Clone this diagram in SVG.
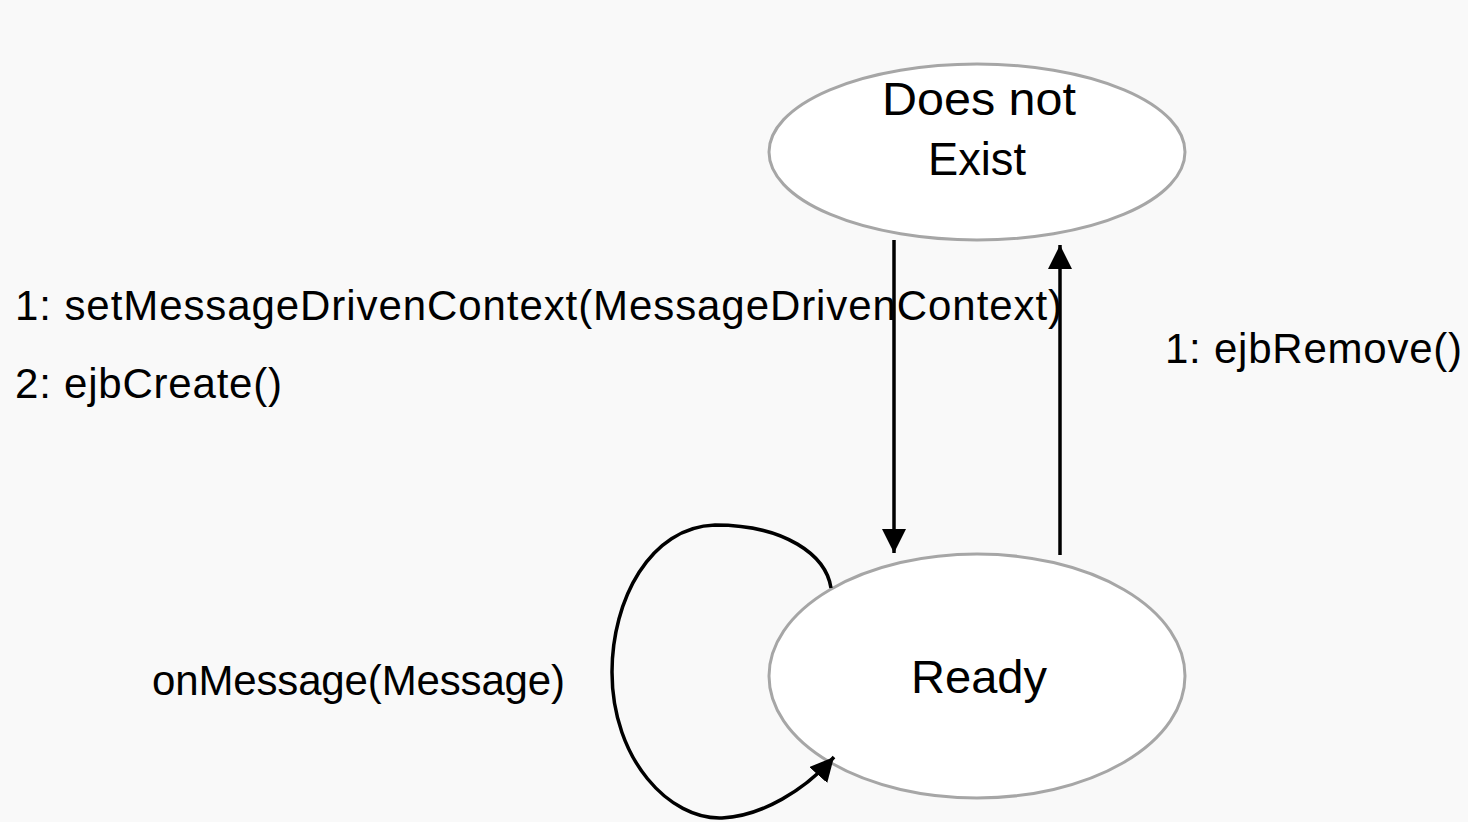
<svg xmlns="http://www.w3.org/2000/svg" width="1468" height="822" viewBox="0 0 1468 822">
  <style>
    .state { fill: #ffffff; stroke: #a6a6a6; stroke-width: 3; }
    .label { font-family: "Liberation Sans", Arial, sans-serif; font-size: 42px; fill: #000000; }
    .name { font-family: "Liberation Sans", Arial, sans-serif; font-size: 46px; fill: #000000; text-anchor: middle; }
    .edge { fill: none; stroke: #000000; stroke-width: 3.5; }
  </style>
  <defs>
    <marker id="arrow" viewBox="0 0 24 24" refX="24" refY="12" markerWidth="24" markerHeight="24" markerUnits="userSpaceOnUse" orient="auto">
      <path d="M0,0 L24,12 L0,24 Z" fill="#000000"/>
    </marker>
  </defs>
  <rect width="1468" height="822" fill="#f9f9f9"/>

  <g id="state-does-not-exist">
    <ellipse class="state" cx="977" cy="152" rx="208" ry="88"/>
    <text class="name" x="979" y="115" textLength="194" lengthAdjust="spacingAndGlyphs">Does not</text>
    <text class="name" x="977" y="175" textLength="98" lengthAdjust="spacingAndGlyphs">Exist</text>
  </g>

  <g id="state-ready">
    <ellipse class="state" cx="977" cy="676" rx="208" ry="122"/>
    <text class="name" x="979" y="693" textLength="136" lengthAdjust="spacingAndGlyphs">Ready</text>
  </g>

  <g id="connectors">
    <line class="edge" x1="894" y1="240" x2="894" y2="553" marker-end="url(#arrow)"/>
    <line class="edge" x1="1060" y1="555" x2="1060" y2="245" marker-end="url(#arrow)"/>
    <path class="edge" d="M831,588 C826,555 785,525 715,525 C650,527 612,600 612,672 C612,760 670,820 722,818 C762,816 805,790 834,757" marker-end="url(#arrow)"/>
  </g>

  <g id="labels">
    <text class="label" x="15" y="320" textLength="1047" lengthAdjust="spacing">1: setMessageDrivenContext(MessageDrivenContext)</text>
    <text class="label" x="15" y="398" textLength="267" lengthAdjust="spacing">2: ejbCreate()</text>
    <text class="label" x="1165" y="363" textLength="297" lengthAdjust="spacing">1: ejbRemove()</text>
    <text class="label" x="152" y="695" textLength="413" lengthAdjust="spacing">onMessage(Message)</text>
  </g>
</svg>
